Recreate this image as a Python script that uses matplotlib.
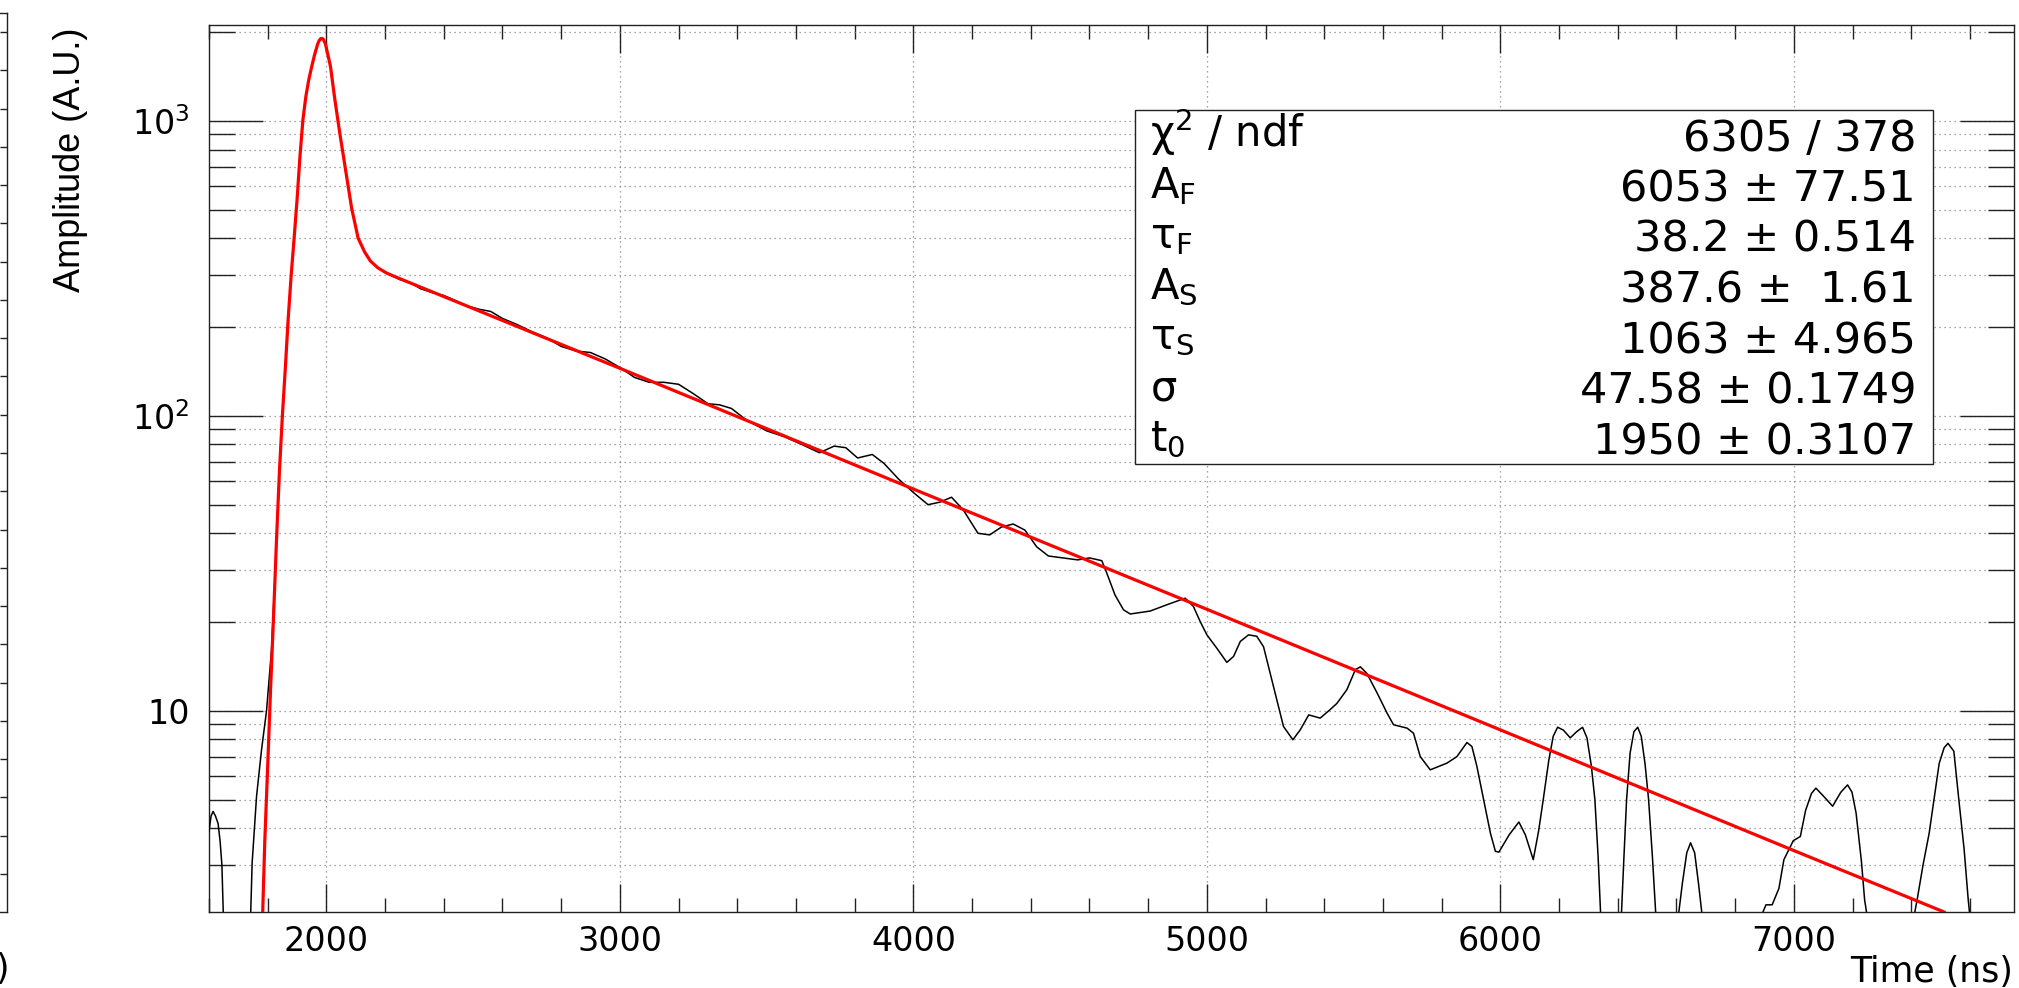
"""
Waveform with two-exponential fit (log scale), ROOT-style canvas.
Output: out.png (2019x988)
"""

import matplotlib
matplotlib.use("Agg")
import matplotlib.pyplot as plt
import numpy as np
from matplotlib.patches import Rectangle
from matplotlib.ticker import FuncFormatter, LogLocator, MultipleLocator, NullFormatter

plt.rcParams["font.family"] = ["DejaVu Sans"]
plt.rcParams["mathtext.fontset"] = "dejavusans"

# --- data ------------------------------------------------------------------
# waveform (black); 1.0 marks samples that sit below the axis (clipped)
WAVE_T = [1600, 1607, 1614, 1622, 1631, 1638, 1644, 1649, 1656, 1735,
          1742, 1747, 1762, 1779, 1796, 1813, 1826, 1840, 1850, 1860,
          1870, 1880, 1890, 1900, 1910, 1920, 1930, 1940, 1950, 1960,
          1970, 1975, 1980, 1985, 1990, 1997, 2004, 2014, 2029, 2046,
          2063, 2086, 2108, 2130, 2150, 2175, 2205, 2250, 2290, 2320,
          2360, 2400, 2440, 2480, 2520, 2560, 2600, 2650, 2700, 2750,
          2800, 2850, 2900, 2950, 3000, 3050, 3100, 3150, 3200, 3250,
          3300, 3340, 3380, 3430, 3500, 3560, 3620, 3680, 3730, 3770,
          3810, 3860, 3900, 3950, 4000, 4050, 4090, 4130, 4170, 4220,
          4260, 4300, 4340, 4380, 4420, 4460, 4510, 4560, 4600, 4642,
          4659, 4687, 4716, 4739, 4807, 4864, 4926, 4954, 4977, 5000,
          5034, 5068, 5091, 5114, 5142, 5170, 5193, 5227, 5261, 5293,
          5318, 5347, 5386, 5420, 5443, 5477, 5506, 5523, 5545, 5580,
          5614, 5636, 5682, 5704, 5727, 5761, 5818, 5852, 5886, 5903,
          5920, 5943, 5966, 5983, 5995, 6030, 6063, 6085, 6112, 6130,
          6146, 6165, 6180, 6195, 6215, 6238, 6260, 6280, 6295, 6310,
          6322, 6333, 6342, 6350, 6405, 6412, 6421, 6430, 6442, 6455,
          6468, 6480, 6493, 6505, 6518, 6530, 6540, 6598, 6606, 6620,
          6635, 6648, 6662, 6675, 6688, 6698, 6885, 6892, 6905, 6926,
          6949, 6966, 6998, 7022, 7040, 7060, 7075, 7100, 7132, 7160,
          7183, 7198, 7212, 7230, 7241, 7250, 7260, 7402, 7411, 7420,
          7440, 7461, 7480, 7495, 7512, 7525, 7545, 7562, 7580, 7594,
          7600, 7610, 7750]
WAVE_A = [3.9, 4.4, 4.56, 4.4, 4.15, 3.6, 3.0, 2.0, 1.0, 1.0,
          2.05, 3.05, 5.13, 7.38, 10.0, 16.1, 30.0, 65, 100, 145,
          215, 300, 400, 540, 760, 1010, 1210, 1380, 1530, 1680,
          1820, 1870, 1900, 1905, 1890, 1820, 1695, 1528, 1178, 904,
          706, 506, 401, 360, 335, 318, 305, 290, 282, 270,
          262, 256, 246, 236, 230, 226, 214, 204, 193, 184,
          172, 166, 164, 156, 146, 135, 130, 130, 128, 119,
          110, 109, 106, 97, 89, 85, 80, 75, 79, 78,
          72, 74, 69, 61, 55, 50, 51, 53, 48, 40,
          39.5, 42, 43, 41, 36, 33.5, 33, 32.5, 33, 32.3,
          29.3, 24.7, 22.0, 21.3, 21.8, 22.9, 24.1, 22.6, 20.1, 18.1,
          16.3, 14.6, 15.3, 17.2, 18.1, 17.9, 16.5, 12.1, 8.85, 7.98,
          8.62, 9.69, 9.45, 10.1, 10.6, 11.8, 13.8, 14.1, 13.4, 11.5,
          9.82, 8.97, 8.74, 8.40, 7.00, 6.31, 6.65, 7.00, 7.81, 7.57,
          6.48, 4.99, 3.85, 3.34, 3.32, 3.8, 4.2, 3.8, 3.13, 3.9,
          5.0, 6.8, 8.2, 8.8, 8.6, 8.1, 8.5, 8.8, 8.1, 6.5,
          5.0, 3.2, 2.0, 1.0, 1.0, 2.0, 3.2, 5.0, 7.2, 8.5,
          8.8, 8.2, 6.6, 5.0, 3.2, 2.0, 1.0, 1.0, 2.0, 2.6,
          3.3, 3.57, 3.3, 2.6, 2.0, 1.0, 1.0, 2.05, 2.2, 2.2,
          2.5, 3.13, 3.63, 3.75, 4.6, 5.25, 5.47, 5.15, 4.75, 5.3,
          5.61, 5.3, 4.5, 3.1, 2.29, 2.0, 1.0, 1.0, 2.05, 2.29,
          3.0, 3.85, 5.2, 6.63, 7.5, 7.76, 7.3, 5.0, 3.4, 2.29,
          2.0, 1.0, 1.0]

# fit function (red)
FIT_T = [1783, 1790, 1800, 1810, 1820, 1830, 1840, 1850, 1860, 1870,
         1880, 1890, 1900, 1910, 1920, 1930, 1940, 1950, 1960, 1970,
         1975, 1980, 1985, 1990, 1997, 2004, 2014, 2029, 2046, 2063,
         2086, 2108, 2130, 2150, 2175, 2205, 2250, 3000, 4000, 5000,
         6000, 7000, 7512]
FIT_A = [2.08, 3.6, 6.5, 12, 21, 38, 65, 100, 145, 215,
         300, 400, 540, 760, 1010, 1210, 1380, 1530, 1680, 1820,
         1870, 1900, 1905, 1890, 1820, 1695, 1528, 1178, 904, 706,
         506, 401, 360, 335, 318, 305, 292, 145, 56.5, 22.1,
         8.62, 3.36, 2.08]

STAT_LABELS = [r"$\mathrm{\chi}^{2}$ / ndf", r"$\mathrm{A}_{\mathrm{F}}$",
               r"$\mathrm{\tau}_{\mathrm{F}}$", r"$\mathrm{A}_{\mathrm{S}}$",
               r"$\mathrm{\tau}_{\mathrm{S}}$", r"$\mathrm{\sigma}$",
               r"$\mathrm{t}_{0}$"]
STAT_VALUES = ["6305 / 378", "6053 ± 77.51", "38.2 ± 0.514", "387.6 ±  1.61",
               "1063 ± 4.965", "47.58 ± 0.1749", "1950 ± 0.3107"]

# --- layout (pixels of the 2019x988 canvas) ---------------------------------
W, H = 2019, 988
FRAME = "#222222"


def fx(x):
    return x / W


def fy(y):
    return 1 - y / H


fig = plt.figure(figsize=(W / 100, H / 100), dpi=100)

# leftover edge of the neighbouring pad
edge = fig.add_axes([-0.1, fy(912), 0.1 + fx(7.3), (912 - 13) / H])
edge.set_xlim(0, 1)
edge.set_ylim(0, 899)
edge.set_xticks([])
edge.yaxis.tick_right()
edge.set_yticks(np.linspace(38, 880, 23))
edge.yaxis.set_major_formatter(NullFormatter())
edge.tick_params(axis="y", direction="in", length=5, width=1.0, color=FRAME)
edge.spines["left"].set_visible(False)
for s in ("right", "top", "bottom"):
    edge.spines[s].set_color(FRAME)
    edge.spines[s].set_linewidth(1.0)
fig.text(fx(9), fy(979), ")", ha="right", va="baseline", fontsize=25)

ax = fig.add_axes([fx(209), fy(912), (2014 - 209) / W, (912 - 25) / H])
ax.set_yscale("log")
ax.set_xlim(1600, 7750)
ax.set_ylim(2.08, 2115)

ax.plot(WAVE_T, WAVE_A, color="black", lw=1.1, zorder=3)
ax.plot(FIT_T, FIT_A, color="#ff0000", lw=2.3, zorder=4)

ax.xaxis.set_major_locator(MultipleLocator(1000))
ax.xaxis.set_minor_locator(MultipleLocator(200))
ax.yaxis.set_major_locator(LogLocator(base=10, numticks=10))
ax.yaxis.set_minor_locator(LogLocator(base=10, subs=np.arange(2, 10), numticks=20))
ax.yaxis.set_major_formatter(FuncFormatter(
    lambda v, p: "10" if abs(v - 10) < 1e-6 else rf"$10^{{{int(round(np.log10(v)))}}}$"))
ax.yaxis.set_minor_formatter(NullFormatter())

ax.tick_params(axis="y", which="major", direction="in", length=39, width=1.0,
               left=True, right=True, color=FRAME, labelsize=24, pad=14)
ax.tick_params(axis="y", which="minor", direction="in", length=19, width=1.0,
               left=True, right=True, color=FRAME)
ax.tick_params(axis="x", which="major", direction="in", length=20, width=1.0,
               top=True, bottom=True, color=FRAME, labelsize=24, pad=9)
ax.tick_params(axis="x", which="minor", direction="in", length=10, width=1.0,
               top=True, bottom=True, color=FRAME)

grid_kw = dict(color="#888888", lw=0.9, ls=(0, (1, 3)))
ax.grid(True, which="major", axis="x", **grid_kw)
ax.grid(True, which="both", axis="y", **grid_kw)
for s in ax.spines.values():
    s.set_color(FRAME)
    s.set_linewidth(1.0)

fig.text(fx(2013), fy(982), "Time (ns)", ha="right", va="baseline", fontsize=25)
fig.text(fx(70), fy(28), "Amplitude (A.U.)", rotation=90, ha="center", va="top",
         fontsize=26, family=["Liberation Sans", "DejaVu Sans"])

# --- fit statistics box -----------------------------------------------------
box_l, box_r, box_t, box_b = 1135, 1933, 110, 464
fig.patches.append(Rectangle((fx(box_l), fy(box_b)), (box_r - box_l) / W,
                             (box_b - box_t) / H, transform=fig.transFigure,
                             facecolor="white", edgecolor=FRAME, lw=1.0, zorder=10))
row_h = (box_b - box_t) / len(STAT_LABELS)
for i, (lab, val) in enumerate(zip(STAT_LABELS, STAT_VALUES)):
    yc = box_t + row_h * (i + 0.5)
    fig.text(fx(1150), fy(yc + 12), lab, ha="left", va="baseline",
             fontsize=30, zorder=11)
    fig.text(fx(1916), fy(yc + 15.5), val, ha="right", va="baseline",
             fontsize=31, zorder=11)

fig.savefig("out.png", dpi=100)
